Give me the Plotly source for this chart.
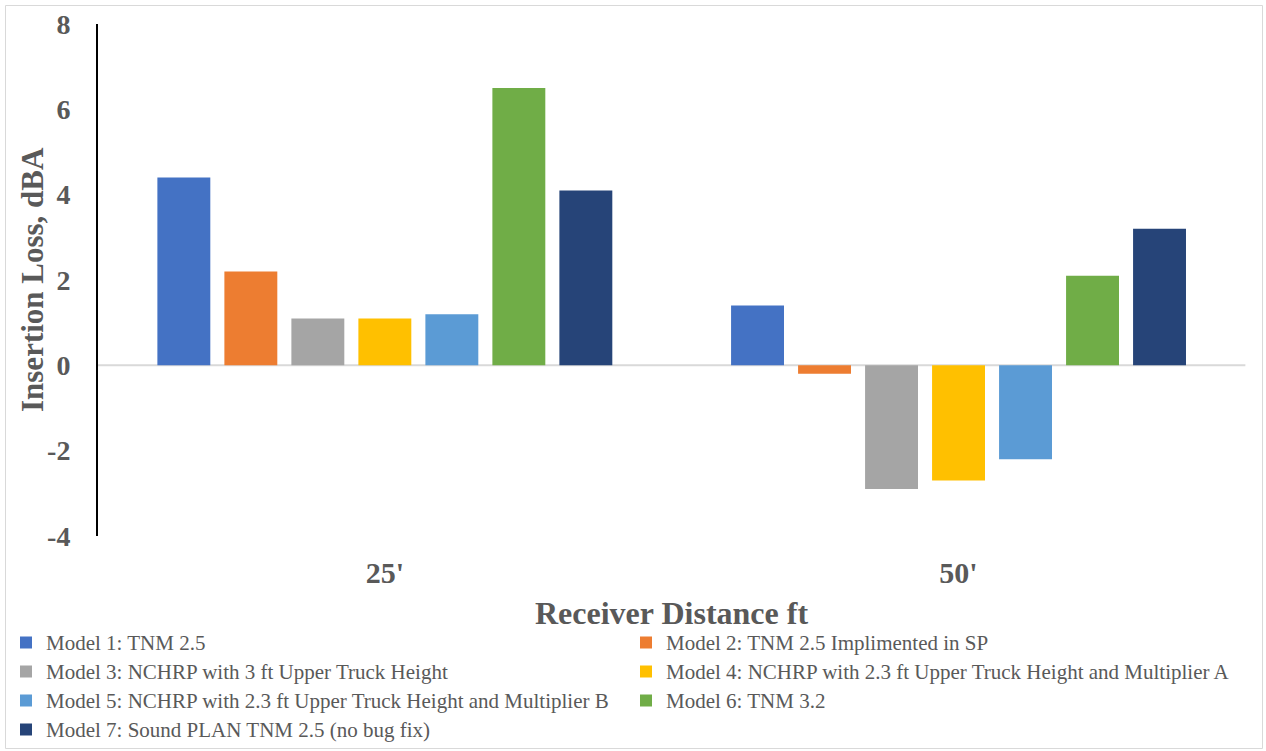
import plotly.graph_objects as go

# Receiver distances (categories)
distances = ["25'", "50'"]

# Insertion loss (dBA) per model at each receiver distance
model_names = [
    "Model 1: TNM 2.5",
    "Model 2: TNM 2.5 Implimented in SP",
    "Model 3: NCHRP with 3 ft Upper Truck Height",
    "Model 4: NCHRP with 2.3 ft Upper Truck Height and Multiplier A",
    "Model 5: NCHRP with 2.3 ft Upper Truck Height and Multiplier B",
    "Model 6: TNM 3.2",
    "Model 7: Sound PLAN TNM 2.5 (no bug fix)",
]
model_1 = [4.4, 1.4]
model_2 = [2.2, -0.2]
model_3 = [1.1, -2.9]
model_4 = [1.1, -2.7]
model_5 = [1.2, -2.2]
model_6 = [6.5, 2.1]
model_7 = [4.1, 3.2]
model_values = [model_1, model_2, model_3, model_4, model_5, model_6, model_7]

y_ticks = [-4, -2, 0, 2, 4, 6, 8]

colors = ["#4472C4", "#ED7D31", "#A5A5A5", "#FFC000", "#5B9BD5", "#70AD47", "#264478"]

FONT = "Liberation Serif"
GREY = "#595959"

fig = go.Figure()
for name, vals, col in zip(model_names, model_values, colors):
    fig.add_trace(go.Bar(
        x=distances, y=vals,
        name=f"<span style='font-size:21px'>{name}</span>",
        marker=dict(color=col, line=dict(width=0)),
    ))

W, H = 1266, 751
L, R, T, B = 98, 8, 24, 215
plot_w = W - L - R
plot_h = H - T - B


def px_x(p):
    return (p - L) / plot_w


def px_y(p):
    return (H - B - p) / plot_h


fig.update_layout(
    width=W, height=H,
    margin=dict(l=L, r=R, t=T, b=B, autoexpand=False),
    paper_bgcolor="white", plot_bgcolor="white",
    barmode="group", bargap=0.1825, bargroupgap=0.21,
    font=dict(family=FONT, color=GREY),
    showlegend=True,
    legend=dict(
        orientation="h", x=px_x(6), xanchor="left", y=px_y(623), yanchor="top",
        entrywidth=575, entrywidthmode="pixels", traceorder="normal",
        font=dict(family=FONT, size=20, color=GREY),
        bgcolor="rgba(0,0,0,0)",
    ),
    xaxis=dict(
        type="category", range=[-0.5, 1.522], showgrid=False, zeroline=False,
        showline=False, ticks="", ticklabelstandoff=16,
        tickfont=dict(family=FONT, size=30, color=GREY, weight="bold"),
    ),
    yaxis=dict(
        range=[-4, 8], tickvals=y_ticks, ticktext=[str(v) for v in y_ticks],
        showgrid=False, zeroline=False, showline=True, linecolor="black", linewidth=2,
        ticks="", ticklabelstandoff=20,
        tickfont=dict(family=FONT, size=28, color=GREY, weight="bold"),
    ),
    shapes=[
        # zero baseline
        dict(type="line", xref="x", yref="y", x0=-0.5, x1=1.5, y0=0, y1=0,
             line=dict(color="#D9D9D9", width=2), layer="below"),
        # chart frame
        dict(type="rect", xref="paper", yref="paper",
             x0=px_x(5.5), x1=px_x(1262.5), y0=px_y(748.5), y1=px_y(5.5),
             line=dict(color="#D9D9D9", width=1), layer="below"),
    ],
    annotations=[
        dict(text="<b>Insertion Loss, dBA</b>", textangle=-90, showarrow=False,
             xref="paper", yref="paper", x=px_x(32), y=px_y(280),
             xanchor="center", yanchor="middle",
             font=dict(family=FONT, size=31, color=GREY)),
        dict(text="<b>Receiver Distance ft</b>", showarrow=False,
             xref="paper", yref="paper", x=px_x(671), y=px_y(613),
             xanchor="center", yanchor="middle",
             font=dict(family=FONT, size=32, color=GREY)),
    ],
)

fig.write_html("out.html")
